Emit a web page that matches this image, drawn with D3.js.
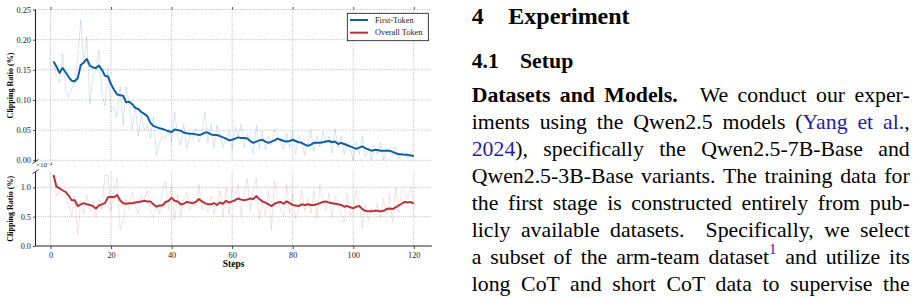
<!DOCTYPE html>
<html><head><meta charset="utf-8">
<script src="https://cdn.jsdelivr.net/npm/d3@7"></script>
<style>
html,body{margin:0;padding:0;background:#fff;width:917px;height:298px;overflow:hidden;}
#chart{position:absolute;left:0;top:0;}
#para{position:absolute;left:471.7px;top:81.85px;width:438px;font-family:"Liberation Serif","Times New Roman",serif;font-size:21.8px;line-height:27px;color:#000;}
#para div{text-align:justify;text-align-last:justify;height:27px;}
#para a{color:#1f1f9e;text-decoration:none;}
#para sup{font-size:0.68em;line-height:0;position:relative;top:-0.1em;color:#1f1f9e;}
</style></head>
<body>
<div id="chart"></div>
<div id="para"></div>
<script>
// ---- data ----
const steps = d3.range(1, 121);
const xTicks = [0, 20, 40, 60, 80, 100, 120];
const topTicks = [0.00, 0.05, 0.10, 0.15, 0.20, 0.25];
const botTicks = [0.0, 0.5, 1.0];
const seriesNames = ["First-Token", "Overall Token"];

// First-Token clipping ratio (%) raw
const firstRaw = [.160,.138,.130,.176,.118,.104,.118,.128,.172,.233,.160,.205,.094,.140,.150,.183,.110,.090,.152,.080,
.088,.072,.122,.058,.122,.095,.052,.090,.040,.075,.050,.058,.036,.072,.008,.028,.040,.036,.052,.030,
.080,.040,.025,.060,.020,.040,.035,.052,.030,.045,.080,.030,.060,.020,.058,.042,.022,.035,.048,.018,
.055,.040,.060,.022,.044,.030,.010,.058,.020,.048,.018,.040,.026,.052,.040,.030,.018,.045,.020,.048,
.010,.040,.030,.008,.028,.050,.015,.040,.022,.048,.030,.040,.012,.052,.022,.040,.010,.030,.018,.000,
.030,.010,.040,.005,.020,.000,.025,.010,.030,.000,.020,.012,.008,.022,.002,.010,.015,.004,.012,.006];
// First-Token smoothed
const firstSmooth = [.164,.155,.145,.153,.146,.138,.132,.131,.136,.158,.162,.168,.157,.154,.153,.157,.150,.140,.139,.126,
.117,.109,.108,.107,.096,.097,.093,.087,.085,.080,.077,.073,.062,.057,.055,.053,.052,.050,.048,.047,
.051,.050,.049,.046,.045,.044,.044,.043,.042,.043,.046,.046,.043,.042,.042,.040,.038,.036,.033,.034,
.036,.038,.037,.037,.036,.032,.029,.031,.033,.034,.031,.029,.031,.033,.036,.034,.032,.031,.032,.034,
.032,.030,.029,.026,.024,.026,.029,.029,.029,.030,.031,.032,.030,.031,.027,.029,.027,.025,.023,.021,
.019,.021,.023,.020,.018,.016,.017,.017,.016,.016,.016,.016,.014,.012,.010,.010,.009,.009,.008,.007];
// Overall Token clipping ratio (x1e-4 %) raw
const overallRaw = [1.20,0.85,0.92,0.86,0.84,0.72,0.50,0.85,0.19,0.78,0.55,0.88,0.60,0.75,0.48,0.80,0.62,1.20,1.20,0.60,
0.95,1.15,0.27,0.45,0.80,0.62,0.92,0.70,0.55,0.88,0.78,0.95,0.60,0.48,0.70,0.55,0.95,1.10,0.62,1.00,
0.45,0.88,0.50,0.80,0.92,0.60,0.78,0.68,1.05,0.62,0.72,0.58,0.85,0.55,0.72,0.95,0.50,1.00,0.55,0.98,
0.90,1.05,0.50,0.90,1.15,0.60,0.95,1.15,0.45,0.75,0.52,0.95,0.28,1.10,0.85,0.62,0.50,1.05,0.55,0.90,
0.45,0.62,0.95,0.60,0.80,0.55,0.95,0.48,1.05,0.80,0.60,0.90,0.50,0.85,0.72,0.55,0.40,0.90,0.50,0.62,
0.95,0.70,0.30,0.70,0.45,0.65,0.55,0.72,0.48,0.80,0.55,0.88,0.40,1.00,0.58,0.95,0.90,0.80,1.00,0.75];
// Overall Token smoothed
const overallSmooth = [1.21,1.01,0.98,0.95,0.92,0.86,0.78,0.78,0.68,0.71,0.73,0.71,0.70,0.68,0.64,0.69,0.71,0.73,0.83,0.84,
0.83,0.87,0.78,0.73,0.72,0.73,0.73,0.74,0.75,0.76,0.77,0.76,0.76,0.71,0.67,0.69,0.69,0.75,0.77,0.82,
0.77,0.76,0.71,0.72,0.75,0.74,0.73,0.75,0.80,0.76,0.73,0.71,0.71,0.73,0.70,0.74,0.72,0.77,0.74,0.76,
0.78,0.81,0.79,0.78,0.79,0.81,0.80,0.85,0.80,0.76,0.74,0.71,0.68,0.72,0.74,0.75,0.72,0.76,0.73,0.70,
0.69,0.68,0.71,0.70,0.71,0.70,0.70,0.71,0.73,0.75,0.76,0.74,0.73,0.72,0.71,0.70,0.67,0.68,0.66,0.64,
0.67,0.68,0.63,0.60,0.59,0.59,0.60,0.60,0.59,0.60,0.63,0.64,0.63,0.66,0.69,0.72,0.75,0.74,0.75,0.72];

// ---- chart ----
const W = 917, H = 298;
const blue = "#0d5fa2", red = "#b8323a";
const serif = "'Liberation Serif','Times New Roman',serif";
const svg = d3.select("#chart").append("svg").attr("width", W).attr("height", H);

const L = 35.5, R = 431.8;
const topY0 = 9.5, topY1 = 161.5, botY0 = 171.7, botY1 = 246;
const x = d3.scaleLinear().domain([-4.95, 125.95]).range([L, R]);
const yT = d3.scaleLinear().domain([0, 0.25]).range([160.3, 9.5]);
const yB = d3.scaleLinear().domain([0, 1.266]).range([botY1, botY0]);

const defs = svg.append("defs");
defs.append("clipPath").attr("id", "ct").append("rect").attr("x", L).attr("y", topY0).attr("width", R - L).attr("height", topY1 - topY0);
defs.append("clipPath").attr("id", "cb").append("rect").attr("x", L).attr("y", botY0).attr("width", R - L).attr("height", botY1 - botY0);

const gridStyle = g => g.attr("stroke", "#b4b4b4").attr("stroke-width", 0.8).attr("stroke-dasharray", "1.2,1.2");
// grids
const grid = svg.append("g").call(gridStyle);
xTicks.forEach(t => {
  grid.append("line").attr("x1", x(t)).attr("x2", x(t)).attr("y1", topY0).attr("y2", topY1);
  grid.append("line").attr("x1", x(t)).attr("x2", x(t)).attr("y1", botY0).attr("y2", botY1);
});
topTicks.forEach(t => grid.append("line").attr("x1", L).attr("x2", R).attr("y1", yT(t)).attr("y2", yT(t)));
botTicks.filter(t => t > 0).forEach(t => grid.append("line").attr("x1", L).attr("x2", R).attr("y1", yB(t)).attr("y2", yB(t)));

// lines
const lineT = d3.line().x((d, i) => x(steps[i])).y(d => yT(d));
const lineB = d3.line().x((d, i) => x(steps[i])).y(d => yB(d));
const gt = svg.append("g").attr("clip-path", "url(#ct)");
gt.append("path").attr("d", lineT(firstRaw)).attr("fill", "none").attr("stroke", blue).attr("stroke-opacity", 0.18).attr("stroke-width", 0.9);
gt.append("path").attr("d", lineT(firstSmooth)).attr("fill", "none").attr("stroke", blue).attr("stroke-width", 2).attr("stroke-linejoin", "round");
const gb = svg.append("g").attr("clip-path", "url(#cb)");
gb.append("path").attr("d", lineB(overallRaw)).attr("fill", "none").attr("stroke", red).attr("stroke-opacity", 0.16).attr("stroke-width", 0.9);
gb.append("path").attr("d", lineB(overallSmooth)).attr("fill", "none").attr("stroke", red).attr("stroke-width", 2).attr("stroke-linejoin", "round");

// axes
function styleAxis(g) {
  g.select(".domain").remove();
  g.attr("font-family", serif).attr("font-size", 8.3);
  g.selectAll(".tick line").attr("stroke", "#222").attr("stroke-width", 0.8);
  g.selectAll(".tick text").attr("fill", "#222");
}
svg.append("g").attr("transform", `translate(${L},0)`)
  .call(d3.axisLeft(yT).tickValues(topTicks).tickFormat(d3.format(".2f")).tickSize(2.5).tickPadding(2)).call(styleAxis);
svg.append("g").attr("transform", `translate(${L},0)`)
  .call(d3.axisLeft(yB).tickValues(botTicks).tickFormat(d3.format(".1f")).tickSize(2.5).tickPadding(2)).call(styleAxis);
svg.append("g").attr("transform", `translate(0,${topY0})`)
  .call(d3.axisTop(x).tickValues(xTicks).tickFormat("").tickSize(2.5)).call(styleAxis);
svg.append("g").attr("transform", `translate(0,${botY1})`)
  .call(d3.axisBottom(x).tickValues(xTicks).tickFormat(d3.format("d")).tickSize(3).tickPadding(3)).call(styleAxis);

// spines
const sp = svg.append("g").attr("stroke", "#222").attr("stroke-width", 1.1);
sp.append("line").attr("x1", L).attr("x2", L).attr("y1", topY0).attr("y2", topY1);
sp.append("line").attr("x1", L).attr("x2", L).attr("y1", botY0).attr("y2", botY1);
sp.append("line").attr("x1", L).attr("x2", R).attr("y1", botY1).attr("y2", botY1);
// break marks
sp.append("line").attr("x1", L - 3).attr("x2", L + 3).attr("y1", topY1 + 2).attr("y2", topY1 - 2).attr("stroke-width", 0.9);
sp.append("line").attr("x1", L - 3).attr("x2", L + 3).attr("y1", botY0 + 2).attr("y2", botY0 - 2).attr("stroke-width", 0.9);

// offset text
const off = svg.append("text").attr("x", L + 0.5).attr("y", 167).attr("font-family", serif).attr("font-size", 7).attr("fill", "#222");
off.append("tspan").text("×10");
off.append("tspan").attr("font-size", 5).attr("dy", -2.5).text("−4");

// axis labels
svg.append("text").attr("transform", `translate(13,${(topY0 + topY1) / 2}) rotate(-90)`)
  .attr("text-anchor", "middle").attr("font-family", serif).attr("font-weight", "bold").attr("font-size", 8).text("Clipping Ratio (%)");
svg.append("text").attr("transform", `translate(13,${(botY0 + botY1) / 2}) rotate(-90)`)
  .attr("text-anchor", "middle").attr("font-family", serif).attr("font-weight", "bold").attr("font-size", 8).text("Clipping Ratio (%)");
svg.append("text").attr("x", (L + R) / 2).attr("y", 267).attr("text-anchor", "middle")
  .attr("font-family", serif).attr("font-weight", "bold").attr("font-size", 9.5).text("Steps");

// legend
const lg = svg.append("g");
lg.append("rect").attr("x", 347.3).attr("y", 13.3).attr("width", 81).attr("height", 27.4)
  .attr("fill", "#fff").attr("stroke", "#111").attr("stroke-width", 0.8);
[blue, red].forEach((c, i) => {
  const yy = 20 + i * 12.7;
  lg.append("line").attr("x1", 350).attr("x2", 368).attr("y1", yy).attr("y2", yy).attr("stroke", c).attr("stroke-width", 2);
  lg.append("text").attr("x", 375).attr("y", yy).attr("dy", "0.33em").attr("font-family", serif).attr("font-size", 8.3)
    .attr("fill", "#222").text(seriesNames[i]);
});

// ---- paper text ----
const hd = svg.append("g").attr("font-family", serif).attr("font-weight", "bold").attr("fill", "#000");
hd.append("text").attr("x", 471.7).attr("y", 24).attr("font-size", 24).text("4");
hd.append("text").attr("x", 508.3).attr("y", 24).attr("font-size", 24).text("Experiment");
hd.append("text").attr("x", 471.7).attr("y", 67.7).attr("font-size", 21.8).text("4.1");
hd.append("text").attr("x", 520).attr("y", 67.7).attr("font-size", 21.8).text("Setup");

const lines = [
  '<b>Datasets and Models.</b><span style="display:inline-block;width:0.6em"></span> We conduct our exper-',
  'iments using the Qwen2.5 models (<a>Yang et al.</a>,',
  '<a>2024</a>), specifically the Qwen2.5-7B-Base and',
  'Qwen2.5-3B-Base variants. The training data for',
  'the first stage is constructed entirely from pub-',
  'licly available datasets.&nbsp; Specifically, we select',
  'a subset of the arm-team dataset<sup>1</sup> and utilize its',
  'long CoT and short CoT data to supervise the'
];
d3.select("#para").selectAll("div").data(lines).join("div").html(d => d);
</script>
</body></html>
